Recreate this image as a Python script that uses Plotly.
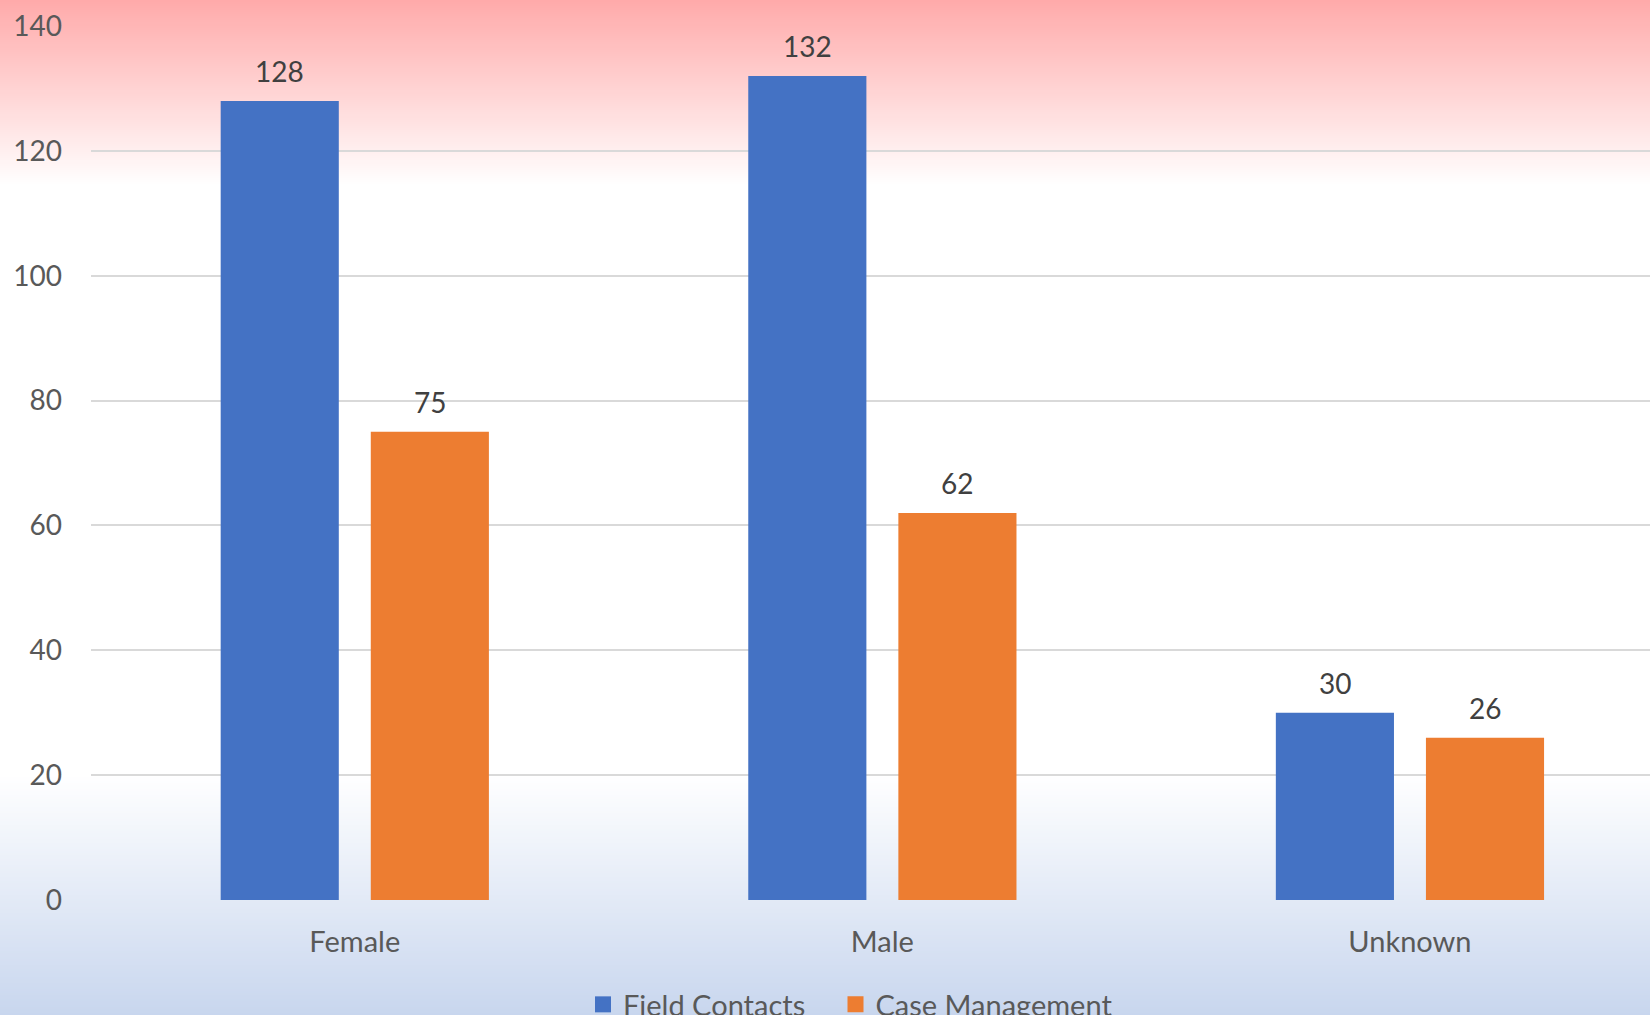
import plotly.graph_objects as go

# Counts by gender for the two programme areas
categories = ["Female", "Male", "Unknown"]
field_contacts = [128, 132, 30]
case_management = [75, 62, 26]
series_names = ["Field Contacts", "Case Management"]
y_ticks = [0, 20, 40, 60, 80, 100, 120, 140]

BLUE = "#4472C4"
ORANGE = "#ED7D31"
FONT = "Lato, 'Open Sans', sans-serif"
FS_NUM = 28
FS_TXT = 29

W, H = 1650, 1015
M_L, M_R, M_T, M_B = 91, 0, 26, 115
PLOT_H = H - M_T - M_B
PLOT_BOTTOM = H - M_B


def paper_y(py):
    return (PLOT_BOTTOM - py) / PLOT_H


fig = go.Figure()
for name, vals, col in ((series_names[0], field_contacts, BLUE),
                        (series_names[1], case_management, ORANGE)):
    fig.add_trace(go.Bar(name=name, x=categories, y=vals, showlegend=False,
                         marker=dict(color=col, line=dict(width=0))))

# legend keys drawn as larger square markers, one legend box per series
for name, col, leg in ((series_names[0], BLUE, "legend"),
                       (series_names[1], ORANGE, "legend2")):
    fig.add_trace(go.Scatter(name=name, x=[None], y=[None], mode="markers",
                             marker=dict(symbol="square", size=18, color=col),
                             showlegend=True, legend=leg))

# value labels above each bar
slot_px = 150
for vals, shift in ((field_contacts, -slot_px / 2), (case_management, slot_px / 2)):
    for c, v in zip(categories, vals):
        fig.add_annotation(x=c, y=v, text=str(v), showarrow=False,
                           xshift=shift, yshift=11, yanchor="bottom",
                           font=dict(family=FONT, size=FS_NUM, color="#404040"))

# background: pink wash at the top, pale blue wash at the bottom
shapes = []
step = 2
top_end = 186
for py in range(0, top_end, step):
    t = (py + step / 2) / top_end
    g = round(170 + 85 * t)
    shapes.append(dict(type="rect", xref="paper", yref="paper", layer="below",
                       x0=-0.1, x1=1.1, y0=paper_y(py + step), y1=paper_y(py),
                       fillcolor=f"rgb(255,{g},{g})", line=dict(width=0)))
bot_start = 775
for py in range(bot_start, H, step):
    t = (py + step / 2 - bot_start) / (H - bot_start)
    r = round(255 - 55 * t)
    g = round(255 - 41 * t)
    b = round(255 - 17 * t)
    shapes.append(dict(type="rect", xref="paper", yref="paper", layer="below",
                       x0=-0.1, x1=1.1, y0=paper_y(py + step), y1=paper_y(py),
                       fillcolor=f"rgb({r},{g},{b})", line=dict(width=0)))

legend_common = dict(orientation="h", xref="container", yref="container",
                     xanchor="left", y=10.5 / H, yanchor="middle",
                     font=dict(family=FONT, size=FS_TXT, color="#595959"),
                     bgcolor="rgba(0,0,0,0)")

fig.update_layout(
    width=W, height=H,
    margin=dict(l=M_L, r=M_R, t=M_T, b=M_B, pad=0),
    paper_bgcolor="white",
    plot_bgcolor="rgba(0,0,0,0)",
    shapes=shapes,
    barmode="group",
    bargap=0.431,
    bargroupgap=0.213,
    font=dict(family=FONT, size=FS_TXT, color="#595959"),
    showlegend=True,
    legend=dict(x=583 / W, **legend_common),
    legend2=dict(x=835.5 / W, **legend_common),
    xaxis=dict(range=[-0.5, 2.455], showgrid=False, zeroline=False,
               showline=False, ticks="", ticklabelstandoff=22,
               tickfont=dict(family=FONT, size=FS_TXT, color="#595959")),
    yaxis=dict(range=[0, 140], tickvals=y_ticks, showgrid=True,
               gridcolor="#D9D9D9", gridwidth=2, zeroline=False,
               showline=False, ticks="", ticklabelstandoff=28,
               tickfont=dict(family=FONT, size=FS_NUM, color="#595959")),
)

fig.write_html("out.html")
